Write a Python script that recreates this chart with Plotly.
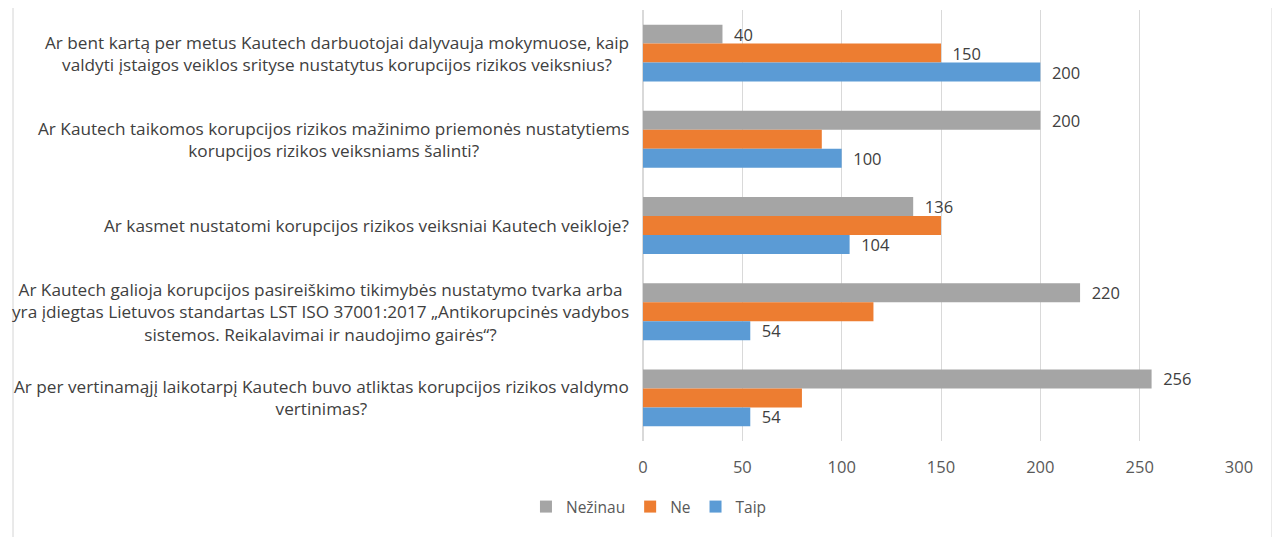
import plotly.graph_objects as go

# Data -----------------------------------------------------------------------------------------------------------------
questions = [
    "Ar bent kartą per metus Kautech darbuotojai dalyvauja mokymuose, kaip<br>valdyti įstaigos veiklos srityse nustatytus korupcijos rizikos veiksnius?",
    "Ar Kautech taikomos korupcijos rizikos mažinimo priemonės nustatytiems<br>korupcijos rizikos veiksniams šalinti?",
    "Ar kasmet nustatomi korupcijos rizikos veiksniai Kautech veikloje?",
    "Ar Kautech galioja korupcijos pasireiškimo tikimybės nustatymo tvarka arba<br>yra įdiegtas Lietuvos standartas LST ISO 37001:2017 „Antikorupcinės vadybos<br>sistemos. Reikalavimai ir naudojimo gairės“?",
    "Ar per vertinamąjį laikotarpį Kautech buvo atliktas korupcijos rizikos valdymo<br>vertinimas?",
]
nezinau = [40, 200, 136, 220, 256]
ne = [150, 90, 150, 116, 80]
taip = [200, 100, 104, 54, 54]
ne_labels = ["150", "", "", "", ""]   # only first "Ne" bar is labelled in the original
x_ticks = [0, 50, 100, 150, 200, 250, 300]
# -----------------------------------------------------------------------------------------------------------------

FONT = "Open Sans"
TXT = "#404040"
NB = "\u00a0\u00a0"

# margins (page body adds 8px offset)
L, R, T, B = 635, 49, 2, 104
PW = 1280 - L - R
PH = 537 - T - B

fig = go.Figure()
fig.add_trace(go.Bar(y=questions, x=nezinau, name="Nežinau", orientation="h", marker_color="#a5a5a5",
                     text=[NB + str(v) for v in nezinau], textposition="outside", cliponaxis=False))
fig.add_trace(go.Bar(y=questions, x=ne, name="Ne", orientation="h", marker_color="#ed7d31",
                     text=[NB + t if t else "" for t in ne_labels], textposition="outside", cliponaxis=False))
fig.add_trace(go.Bar(y=questions, x=taip, name="Taip", orientation="h", marker_color="#5b9bd5",
                     text=[NB + str(v) for v in taip], textposition="outside", cliponaxis=False))

fig.update_traces(textfont=dict(family=FONT, size=16.5, color=TXT), constraintext="none",
                  marker_line_width=0, hoverinfo="x+name")

# Category labels as centred multi-line annotations (Excel centres wrapped lines)
for q in questions:
    fig.add_annotation(x=0, xref="paper", y=q, yref="y", text=q, showarrow=False,
                       xanchor="right", align="center", xshift=-12,
                       font=dict(family=FONT, size=17.2, color=TXT))

# Spreadsheet cell borders visible around the chart
for px in (5, 1264):
    fig.add_shape(type="line", xref="paper", yref="paper", x0=(px - L) / PW, x1=(px - L) / PW,
                  y0=-(B + 10) / PH, y1=1 + T / PH, line=dict(color="#d4d4d4", width=1))

fig.update_layout(
    width=1280,
    height=537,
    margin=dict(l=L, r=R, t=T, b=B),
    barmode="group",
    bargap=0.34,
    bargroupgap=0,
    plot_bgcolor="white",
    paper_bgcolor="white",
    font=dict(family=FONT, size=15, color="#595959"),
    legend=dict(orientation="h", x=0.01, xanchor="center", y=-66 / PH, yanchor="middle",
                font=dict(family=FONT, size=15.5, color="#595959"), itemwidth=30),
    showlegend=True,
)
fig.update_xaxes(range=[0, 300], tickvals=x_ticks, showgrid=True, gridcolor="#d9d9d9", gridwidth=1,
                 zeroline=True, zerolinecolor="#d9d9d9", showline=False,
                 ticks="outside", ticklen=11, tickcolor="rgba(0,0,0,0)",
                 tickfont=dict(family=FONT, size=16.5, color="#595959"))
fig.update_yaxes(autorange="reversed", showticklabels=False, showgrid=False, showline=False, ticks="")

fig.write_html("out.html")
